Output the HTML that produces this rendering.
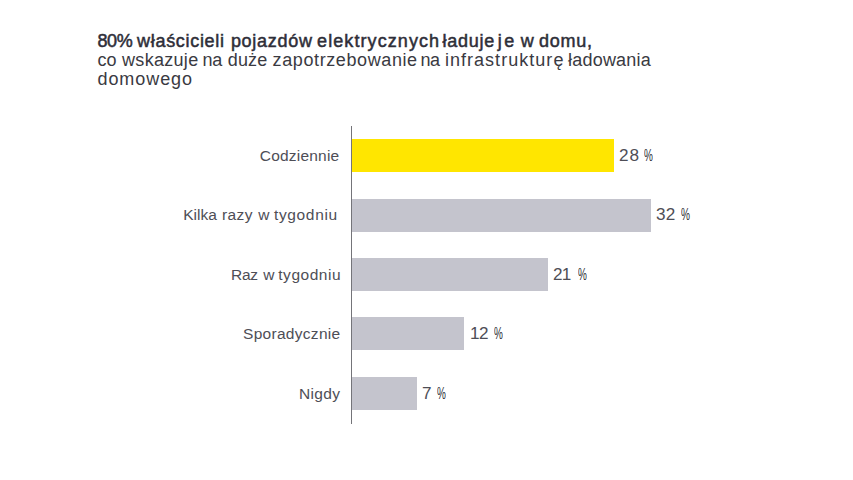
<!DOCTYPE html>
<html>
<head>
<meta charset="utf-8">
<style>
html,body{margin:0;padding:0;background:#fff;}
body{width:853px;height:480px;position:relative;overflow:hidden;font-family:"Liberation Sans",sans-serif;color:#2e2e38;}
.ln{position:absolute;left:0;width:853px;height:20px;}
.ln span{position:absolute;top:0;white-space:nowrap;line-height:20px;}
.w1{font-size:18px;-webkit-text-stroke:0.5px #2e2e38;}
.w2{font-size:18px;color:#3a3a42;}
.lb{font-size:15.5px;color:#4e4e56;}
.vl{font-size:15.6px;color:#4e4e56;}
.dg{transform-origin:0 50%;}
.pc{transform-origin:0 50%;color:#2e2e36;}
.axis{position:absolute;left:351px;top:126px;width:1px;height:298px;background:#747479;}
.bar{position:absolute;left:352px;height:33px;background:#c4c4cd;}
</style>
</head>
<body>
<div class="ln" style="top:30.5px"><span class="w1" style="left:97.40px;letter-spacing:-0.350px">80%</span><span class="w1" style="left:137.09px;letter-spacing:0.690px">właścicieli</span><span class="w1" style="left:230.90px;letter-spacing:0.723px">pojazdów</span><span class="w1" style="left:317.10px;letter-spacing:1.077px">elektrycznych</span><span class="w1" style="left:442.60px;letter-spacing:0.728px">ładuje</span><span class="w1" style="left:497.65px;letter-spacing:2.610px">je</span><span class="w1" style="left:520.79px;letter-spacing:0.000px">w</span><span class="w1" style="left:539.10px;letter-spacing:0.715px">domu,</span></div>
<div class="ln" style="top:49.5px"><span class="w2" style="left:97.50px;letter-spacing:-0.090px">co</span><span class="w2" style="left:122.09px;letter-spacing:0.291px">wskazuje</span><span class="w2" style="left:202.49px;letter-spacing:-0.350px">na</span><span class="w2" style="left:227.80px;letter-spacing:0.113px">duże</span><span class="w2" style="left:272.60px;letter-spacing:0.601px">zapotrzebowanie</span><span class="w2" style="left:420.39px;letter-spacing:-0.350px">na</span><span class="w2" style="left:444.90px;letter-spacing:1.036px">infrastrukturę</span><span class="w2" style="left:568.00px;letter-spacing:0.214px">ładowania</span></div>
<div class="ln" style="top:68.5px"><span class="w2" style="left:97.50px;letter-spacing:0.926px">domowego</span></div>
<div class="ln" style="top:146px"><span class="lb" style="left:259.80px;letter-spacing:0.202px">Codziennie</span></div>
<div class="ln" style="top:205px"><span class="lb" style="left:183.20px;letter-spacing:0.016px">Kilka</span><span class="lb" style="left:221.90px;letter-spacing:0.468px">razy</span><span class="lb" style="left:258.28px;letter-spacing:0.000px">w</span><span class="lb" style="left:274.00px;letter-spacing:0.644px">tygodniu</span></div>
<div class="ln" style="top:265px"><span class="lb" style="left:231.06px;letter-spacing:-0.350px">Raz</span><span class="lb" style="left:263.28px;letter-spacing:0.000px">w</span><span class="lb" style="left:278.30px;letter-spacing:0.516px">tygodniu</span></div>
<div class="ln" style="top:324px"><span class="lb" style="left:243.00px;letter-spacing:0.297px">Sporadycznie</span></div>
<div class="ln" style="top:384px"><span class="lb" style="left:298.90px;letter-spacing:0.374px">Nigdy</span></div>
<div class="ln" style="top:146px"><span class="vl dg" style="left:619.25px;letter-spacing:0.770px;transform:scaleX(1.1)">28</span><span class="vl pc" style="left:643.90px;transform:scaleX(0.641)">%</span></div>
<div class="ln" style="top:205px"><span class="vl dg" style="left:656.25px;letter-spacing:0.289px;transform:scaleX(1.1)">32</span><span class="vl pc" style="left:680.60px;transform:scaleX(0.648)">%</span></div>
<div class="ln" style="top:265px"><span class="vl dg" style="left:553.00px;letter-spacing:-0.621px;transform:scaleX(1.1)">21</span><span class="vl pc" style="left:577.90px;transform:scaleX(0.641)">%</span></div>
<div class="ln" style="top:324px"><span class="vl dg" style="left:470.25px;letter-spacing:-0.602px;transform:scaleX(1.1)">12</span><span class="vl pc" style="left:493.90px;transform:scaleX(0.641)">%</span></div>
<div class="ln" style="top:384px"><span class="vl dg" style="left:422.25px;letter-spacing:0.000px;transform:scaleX(1.1)">7</span><span class="vl pc" style="left:436.80px;transform:scaleX(0.641)">%</span></div>
<div class="axis"></div>
<div class="bar" style="top:139px;width:262px;background:#ffe600;"></div>
<div class="bar" style="top:199px;width:299px;"></div>
<div class="bar" style="top:258px;width:196px;"></div>
<div class="bar" style="top:317px;width:112px;"></div>
<div class="bar" style="top:377px;width:65px;"></div>
</body>
</html>
